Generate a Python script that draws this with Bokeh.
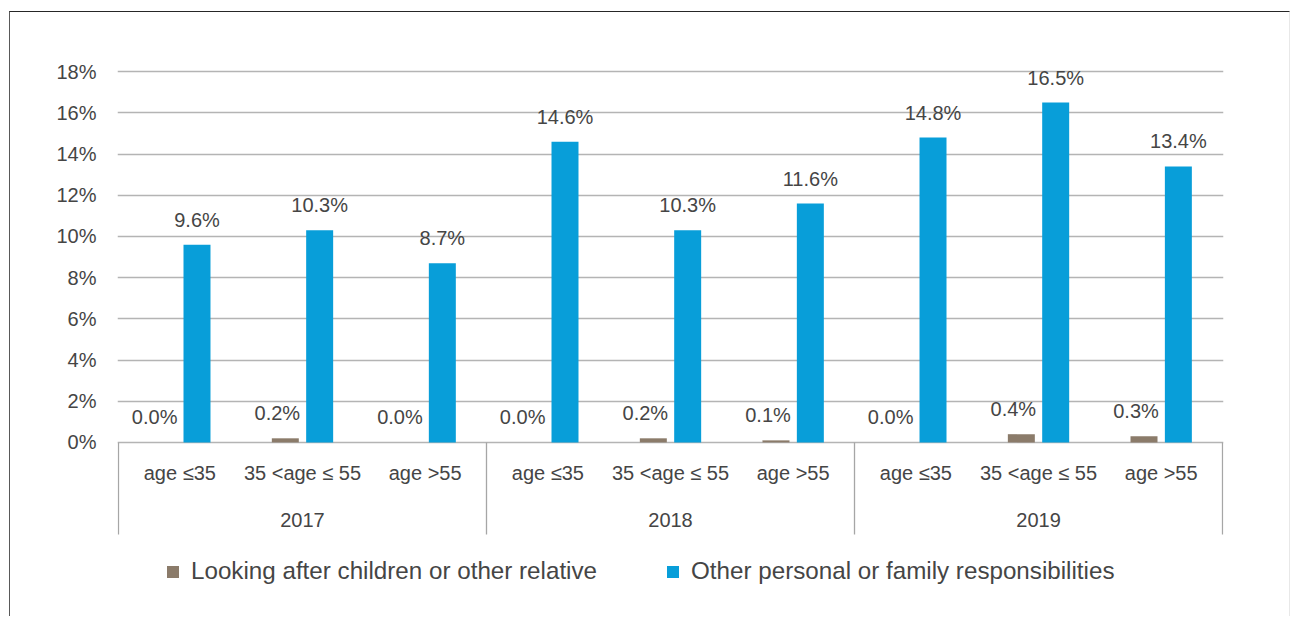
from bokeh.plotting import figure
from bokeh.models import (FactorRange, Range1d, ColumnDataSource, FixedTicker,
                          NumeralTickFormatter, Legend, LegendItem)
from bokeh.transform import dodge
from bokeh.core.properties import value
from bokeh.embed import file_html
from bokeh.resources import INLINE

# ---- data -------------------------------------------------------------
years = ["2017", "2018", "2019"]
age_groups = ["age ≤35", "35 <age ≤ 55", "age >55"]
caring_share = [0.000, 0.002, 0.000, 0.000, 0.002, 0.001, 0.000, 0.004, 0.003]
other_share = [0.096, 0.103, 0.087, 0.146, 0.103, 0.116, 0.148, 0.165, 0.134]
y_ticks = [0.00, 0.02, 0.04, 0.06, 0.08, 0.10, 0.12, 0.14, 0.16, 0.18]
series_names = ["Looking after children or other relative",
                "Other personal or family responsibilities"]

# ---- styling ----------------------------------------------------------
FONT = "Liberation Sans"
TEXT_COLOR = "#454545"
CARING_COLOR = "#8B7B6A"
OTHER_COLOR = "#089ED9"
GRID_COLOR = "#B4B4B4"
SEP_COLOR = "#A6A6A6"
SEP_BOTTOM = -0.0447  # lower end of the category separators

factors = [(yr, ag) for yr in years for ag in age_groups]

src = ColumnDataSource(dict(
    x=factors,
    caring=caring_share,
    other=other_share,
    caring_lbl=[f"{v * 100:.1f}%" for v in caring_share],
    other_lbl=[f"{v * 100:.1f}%" for v in other_share],
    sub=[ag for _, ag in factors],
))

x_range = FactorRange(*factors, factor_padding=0, group_padding=0,
                      range_padding=0.008, range_padding_units="absolute")

p = figure(x_range=x_range, y_range=Range1d(-0.085, 0.20),
           width=1281, height=605, margin=(11, 0, 0, 9),
           x_axis_location=None, toolbar_location=None, output_backend="svg",
           min_border_left=107, min_border_right=68,
           min_border_top=18, min_border_bottom=0)
p.styles = {"border-top": "1px solid #262626",
            "border-left": "1px solid #595959",
            "border-right": "1px solid #E8E8E8"}
p.outline_line_color = None
p.background_fill_color = "white"
p.border_fill_color = "white"

# y axis and horizontal grid
p.yaxis.ticker = FixedTicker(ticks=y_ticks)
p.yaxis.formatter = NumeralTickFormatter(format="0%")
p.yaxis.axis_line_color = None
p.yaxis.major_tick_line_color = None
p.yaxis.minor_tick_line_color = None
p.yaxis.major_tick_out = 0
p.yaxis.major_tick_in = 0
p.yaxis.major_label_standoff = 21
p.yaxis.major_label_text_font = FONT
p.yaxis.major_label_text_font_size = "20px"
p.yaxis.major_label_text_color = TEXT_COLOR
p.ygrid.ticker = FixedTicker(ticks=y_ticks)
p.ygrid.grid_line_color = GRID_COLOR
p.ygrid.grid_line_width = 1.3
p.xgrid.visible = False

# bars
BAR_W = 0.22
BAR_OFF = 0.14
r_caring = p.vbar(x=dodge("x", -BAR_OFF, range=p.x_range), top="caring",
                  width=BAR_W, source=src, fill_color=CARING_COLOR, line_color=None)
r_other = p.vbar(x=dodge("x", BAR_OFF, range=p.x_range), top="other",
                 width=BAR_W, source=src, fill_color=OTHER_COLOR, line_color=None)

# value labels
label_style = dict(text_font=value(FONT), text_font_size="20px",
                   text_color=TEXT_COLOR, text_align="center",
                   text_baseline="alphabetic", y_offset=-25)
p.text(x=dodge("x", -BAR_OFF, range=p.x_range), y="caring", text="caring_lbl",
       x_offset=-8, source=src, **label_style)
p.text(x=dodge("x", BAR_OFF, range=p.x_range), y="other", text="other_lbl",
       source=src, **label_style)

# category labels (age groups, then years)
p.text(x="x", y=0, text="sub", source=src, text_font=value(FONT),
       text_font_size="20px", text_color=TEXT_COLOR, text_align="center",
       text_baseline="alphabetic", y_offset=31)
year_src = ColumnDataSource(dict(x=[(yr, age_groups[1]) for yr in years], year=years))
p.text(x="x", y=0, text="year", source=year_src, text_font=value(FONT),
       text_font_size="20px", text_color=TEXT_COLOR, text_align="center",
       text_baseline="alphabetic", y_offset=78)

# separators between the year groups
sep_src = ColumnDataSource(dict(x=[(yr, age_groups[0]) for yr in years]))
p.segment(x0=dodge("x", -0.5, range=p.x_range), x1=dodge("x", -0.5, range=p.x_range),
          y0=0, y1=SEP_BOTTOM, source=sep_src, line_color=SEP_COLOR, line_width=1.3)
end_src = ColumnDataSource(dict(x=[(years[-1], age_groups[-1])]))
p.segment(x0=dodge("x", 0.5, range=p.x_range), x1=dodge("x", 0.5, range=p.x_range),
          y0=0, y1=SEP_BOTTOM, source=end_src, line_color=SEP_COLOR, line_width=1.3)

# legend
legend = Legend(items=[LegendItem(label=series_names[0], renderers=[r_caring]),
                       LegendItem(label=series_names[1], renderers=[r_other])],
                orientation="horizontal", location=(48, 32),
                padding=0, margin=0, spacing=68, label_standoff=11,
                glyph_width=15, glyph_height=15,
                label_text_font=FONT, label_text_font_size="24.2px",
                label_text_color=TEXT_COLOR,
                border_line_color=None, background_fill_alpha=0)
p.add_layout(legend)

open("out.html", "w").write(file_html(p, INLINE))
